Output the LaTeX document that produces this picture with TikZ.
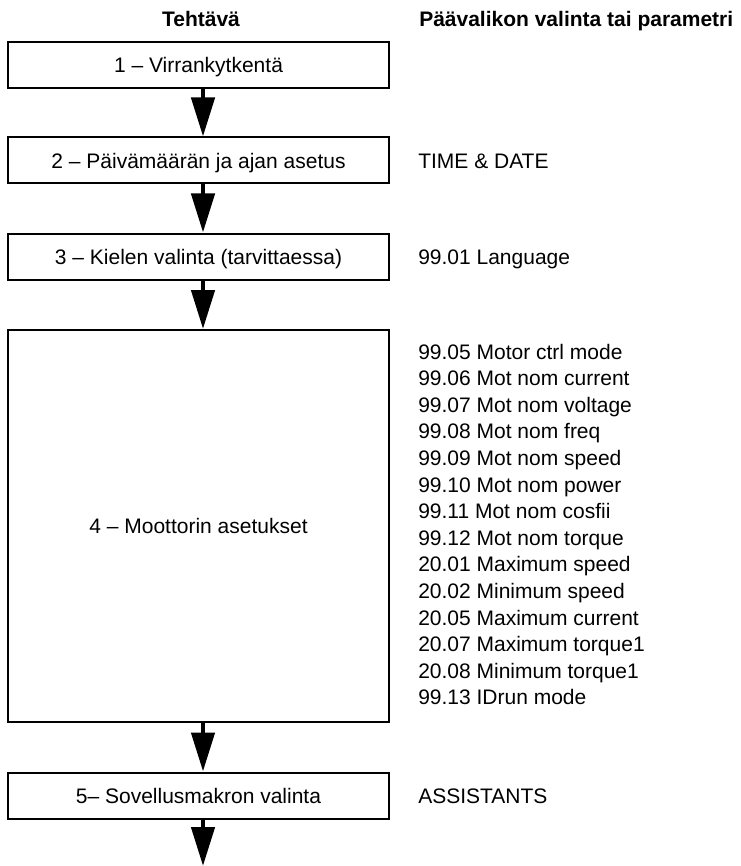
\documentclass[tikz,border=0pt]{standalone}
\usepackage{fontspec}
\setmainfont{Liberation Sans}
\usetikzlibrary{arrows.meta,positioning}

\begin{document}
\begin{tikzpicture}[
    x=0.75pt, y=-0.75pt,
    every node/.style={font=\fontsize{15.75}{19.95}\selectfont, inner sep=0pt,
                       text height=11.3pt, text depth=0pt},
    taskbox/.style={rectangle, draw=black, line width=1.5pt, fill=white,
                    minimum width=285.75pt, text centered},
    param/.style={anchor=west},
    head/.style={font=\fontsize{15.75}{19.95}\selectfont\bfseries},
    flow/.style={line width=3.4pt, -{Triangle[width=17.25pt, length=29.25pt]}}
]
\useasboundingbox (0,0) rectangle (740,866);

% Column headers
\node[head] (headtask) at (201, 19) {Tehtävä};
\node[head, anchor=west] (headpar) at (419, 19) {Päävalikon valinta tai parametri};

% Task boxes
\node[taskbox, minimum height=34.5pt] (task1) at (198.5, 65) {1 – Virrankytkentä};
\node[taskbox, minimum height=34.5pt] (task2) at (198.5, 160.5) {2 – Päivämäärän ja ajan asetus};
\node[taskbox, minimum height=34.5pt] (task3) at (198.5, 256.5) {3 – Kielen valinta (tarvittaessa)};
\node[taskbox, minimum height=294pt] (task4) at (198.5, 526) {4 – Moottorin asetukset};
\node[taskbox, minimum height=34.5pt] (task5) at (198.5, 795.5) {5– Sovellusmakron valinta};

% Menu choices / parameters
\node[param] (par2) at (418, 160.5) {TIME \& DATE};
\node[param] (par3) at (418, 256.5) {99.01 Language};
\node[param] (par5) at (418, 795.5) {ASSISTANTS};

\foreach \p [count=\i from 0] in {99.05 Motor ctrl mode, 99.06 Mot nom current,
    99.07 Mot nom voltage, 99.08 Mot nom freq, 99.09 Mot nom speed,
    99.10 Mot nom power, 99.11 Mot nom cosfii, 99.12 Mot nom torque,
    20.01 Maximum speed, 20.02 Minimum speed, 20.05 Maximum current,
    20.07 Maximum torque1, 20.08 Minimum torque1, 99.13 IDrun mode} {
    \node[param] (par4_\i) at (418, 351.5+26.6*\i) {\p};
}

% Arrows
\coordinate (axis) at (203, 0);
\coordinate (done) at (203, 866);
\draw[flow] (task1.south -| axis) -- (task2.north -| axis);
\draw[flow] (task2.south -| axis) -- (task3.north -| axis);
\draw[flow] (task3.south -| axis) -- (task4.north -| axis);
\draw[flow] (task4.south -| axis) -- (task5.north -| axis);
\draw[flow] (task5.south -| axis) -- (done);

\end{tikzpicture}
\end{document}
